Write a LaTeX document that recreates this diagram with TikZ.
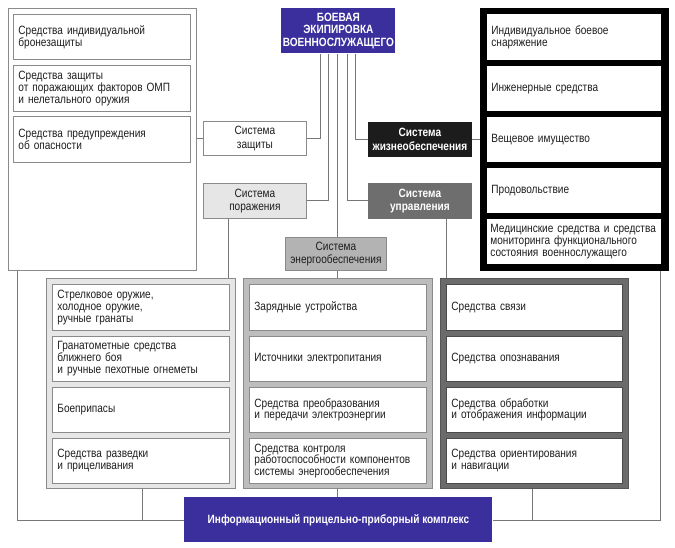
\documentclass[tikz,border=0pt]{standalone}
\usepackage{fontspec}
\setmainfont{Liberation Sans}[FakeStretch=0.84]
\definecolor{txt}{HTML}{1E1E1E}
\definecolor{ln}{HTML}{777777}
\definecolor{bord}{HTML}{8A8A8A}
\definecolor{navy}{HTML}{3A2F9C}
\definecolor{lg}{HTML}{E6E6E6}
\definecolor{mg}{HTML}{BDBDBD}
\definecolor{dg}{HTML}{6B6B6B}
\definecolor{sysdark}{HTML}{1C1C1C}
\definecolor{sysmid}{HTML}{6E6E6E}
\definecolor{sysene}{HTML}{B3B3B3}
\newcommand{\fsz}{\fontsize{12}{11.8}\selectfont}
\newcommand{\fsys}{\fontsize{12}{13.5}\selectfont}
\tikzset{
  frame/.style={anchor=north west, inner sep=0pt, line width=0.8pt},
  item/.style={anchor=north west, inner xsep=5pt, inner ysep=0pt, align=left,
    font=\fsz, text=txt, draw=bord, line width=0.8pt, fill=white},
  sysbox/.style={anchor=north west, inner sep=0pt, align=center, font=\fsys,
    text=txt, draw=bord, line width=0.8pt, minimum width=103pt, minimum height=34pt},
  conn/.style={draw=ln, line width=0.8pt},
}
\begin{document}
\begin{tikzpicture}[x=1pt,y=-1pt]
\path[use as bounding box, fill=white] (0,0) rectangle (675,548);

% left outer group
\node[frame, draw=bord, fill=white, minimum width=188pt, minimum height=262pt] (L) at (8,8) {};
\node[item, text width=167pt, minimum height=45pt] (l1) at (13,14) {Средства индивидуальной\\бронезащиты};
\node[item, text width=167pt, minimum height=46pt] (l2) at (13,65) {Средства защиты\\от поражающих факторов ОМП\\и нелетального оружия};
\node[item, text width=167pt, minimum height=46pt] (l3) at (13,116) {Средства предупреждения\\об опасности};

% right outer group
\node[frame, draw=black, fill=black, minimum width=188pt, minimum height=262pt] (R) at (480,8) {};
\node[item, draw=none, inner xsep=4pt, text width=166pt, minimum height=46pt] (r1) at (487,14) {Индивидуальное боевое\\снаряжение};
\node[item, draw=none, inner xsep=4pt, text width=166pt, minimum height=45pt] (r2) at (487,66) {Инженерные средства};
\node[item, draw=none, inner xsep=4pt, text width=166pt, minimum height=45pt] (r3) at (487,117) {Вещевое имущество};
\node[item, draw=none, inner xsep=4pt, text width=166pt, minimum height=45pt] (r4) at (487,168) {Продовольствие};
\node[item, draw=none, inner xsep=3pt, text width=168pt, minimum height=45pt] (r5) at (487,219) {Медицинские средства и средства\\мониторинга функционального\\состояния военнослужащего};

% top
\node[frame, fill=navy, minimum width=114pt, minimum height=45pt, align=center,
  font=\fontsize{12}{12.8}\selectfont\bfseries, text=white] (top) at (281,8) {БОЕВАЯ\\ЭКИПИРОВКА\\ВОЕННОСЛУЖАЩЕГО};

% systems
\node[sysbox, fill=white] (zas) at (203,121) {Система\\защиты};
\node[sysbox, fill=lg, minimum height=35pt] (por) at (203,183) {Система\\поражения};
\node[sysbox, fill=sysene, minimum width=101pt, minimum height=33pt] (ene) at (285,237) {Система\\энергообеспечения};
\node[sysbox, fill=sysdark, draw=sysdark, text=white, font=\fsys\bfseries] (zhi) at (368,122) {Система\\жизнеобеспечения};
\node[sysbox, fill=sysmid, draw=sysmid, text=white, font=\fsys\bfseries, minimum height=35pt] (upr) at (368,183) {Система\\управления};

% bottom groups
\node[frame, draw=bord, fill=lg, minimum width=189pt, minimum height=210pt] (GL) at (46,278) {};
\node[item, text width=167pt, minimum height=46pt] (gl1) at (52,284) {Стрелковое оружие,\\холодное оружие,\\ручные гранаты};
\node[item, text width=167pt, minimum height=45pt] (gl2) at (52,336) {Гранатометные средства\\ближнего боя\\и ручные пехотные огнеметы};
\node[item, text width=167pt, minimum height=45pt] (gl3) at (52,387) {Боеприпасы};
\node[item, text width=167pt, minimum height=45pt] (gl4) at (52,438) {Средства разведки\\и прицеливания};

\node[frame, draw=bord, fill=mg, minimum width=189pt, minimum height=210pt] (GM) at (243,278) {};
\node[item, text width=167pt, minimum height=46pt] (gm1) at (249,284) {Зарядные устройства};
\node[item, text width=167pt, minimum height=45pt] (gm2) at (249,336) {Источники электропитания};
\node[item, text width=167pt, minimum height=45pt] (gm3) at (249,387) {Средства преобразования\\и передачи электроэнергии};
\node[item, text width=167pt, minimum height=45pt] (gm4) at (249,438) {Средства контроля\\работоспособности компонентов\\системы энергообеспечения};

\node[frame, draw=dg!80!black, fill=dg, minimum width=188pt, minimum height=210pt] (GR) at (440,278) {};
\node[item, draw=dg!70!black, text width=166pt, minimum height=46pt] (gr1) at (446,284) {Средства связи};
\node[item, draw=dg!70!black, text width=166pt, minimum height=45pt] (gr2) at (446,336) {Средства опознавания};
\node[item, draw=dg!70!black, text width=166pt, minimum height=45pt] (gr3) at (446,387) {Средства обработки\\и отображения информации};
\node[item, draw=dg!70!black, text width=166pt, minimum height=45pt] (gr4) at (446,438) {Средства ориентирования\\и навигации};

% bottom box
\node[frame, fill=navy, minimum width=308pt, minimum height=45pt,
  font=\fsz\bfseries, text=white] (info) at (184,497) {Информационный прицельно-приборный комплекс};

% connector columns
\coordinate (c1) at (320,0);
\coordinate (c2) at (328,0);
\coordinate (c3) at (337,0);
\coordinate (c4) at (347,0);
\coordinate (c5) at (355,0);
\coordinate (cp) at (228,0);
\coordinate (cu) at (446,0);
\coordinate (cl) at (17,0);
\coordinate (cgl) at (142,0);
\coordinate (cgr) at (532,0);
\coordinate (cr) at (660,0);

\draw[conn] (c1 |- top.south) |- (zas.east);
\draw[conn] (c2 |- top.south) |- (por.east);
\draw[conn] (c3 |- top.south) -- (c3 |- ene.north);
\draw[conn] (c4 |- top.south) |- (upr.west);
\draw[conn] (c5 |- top.south) |- (zhi.west);
\draw[conn] (zas.west -| L.east) -- (zas.west);
\draw[conn] (zhi.east) -- (zhi.east -| R.west);
\draw[conn] (cp |- por.south) -- (cp |- GL.north);
\draw[conn] (c3 |- ene.south) -- (c3 |- GM.north);
\draw[conn] (cu |- upr.south) -- (cu |- GR.north);
\draw[conn] (c3 |- GM.south) -- (c3 |- info.north);
\draw[conn] (cl |- L.south) |- (info.west);
\draw[conn] (cgl |- GL.south) -- (cgl |- info.west);
\draw[conn] (cr |- R.south) |- (info.east);
\draw[conn] (cgr |- GR.south) -- (cgr |- info.east);
\end{tikzpicture}
\end{document}
